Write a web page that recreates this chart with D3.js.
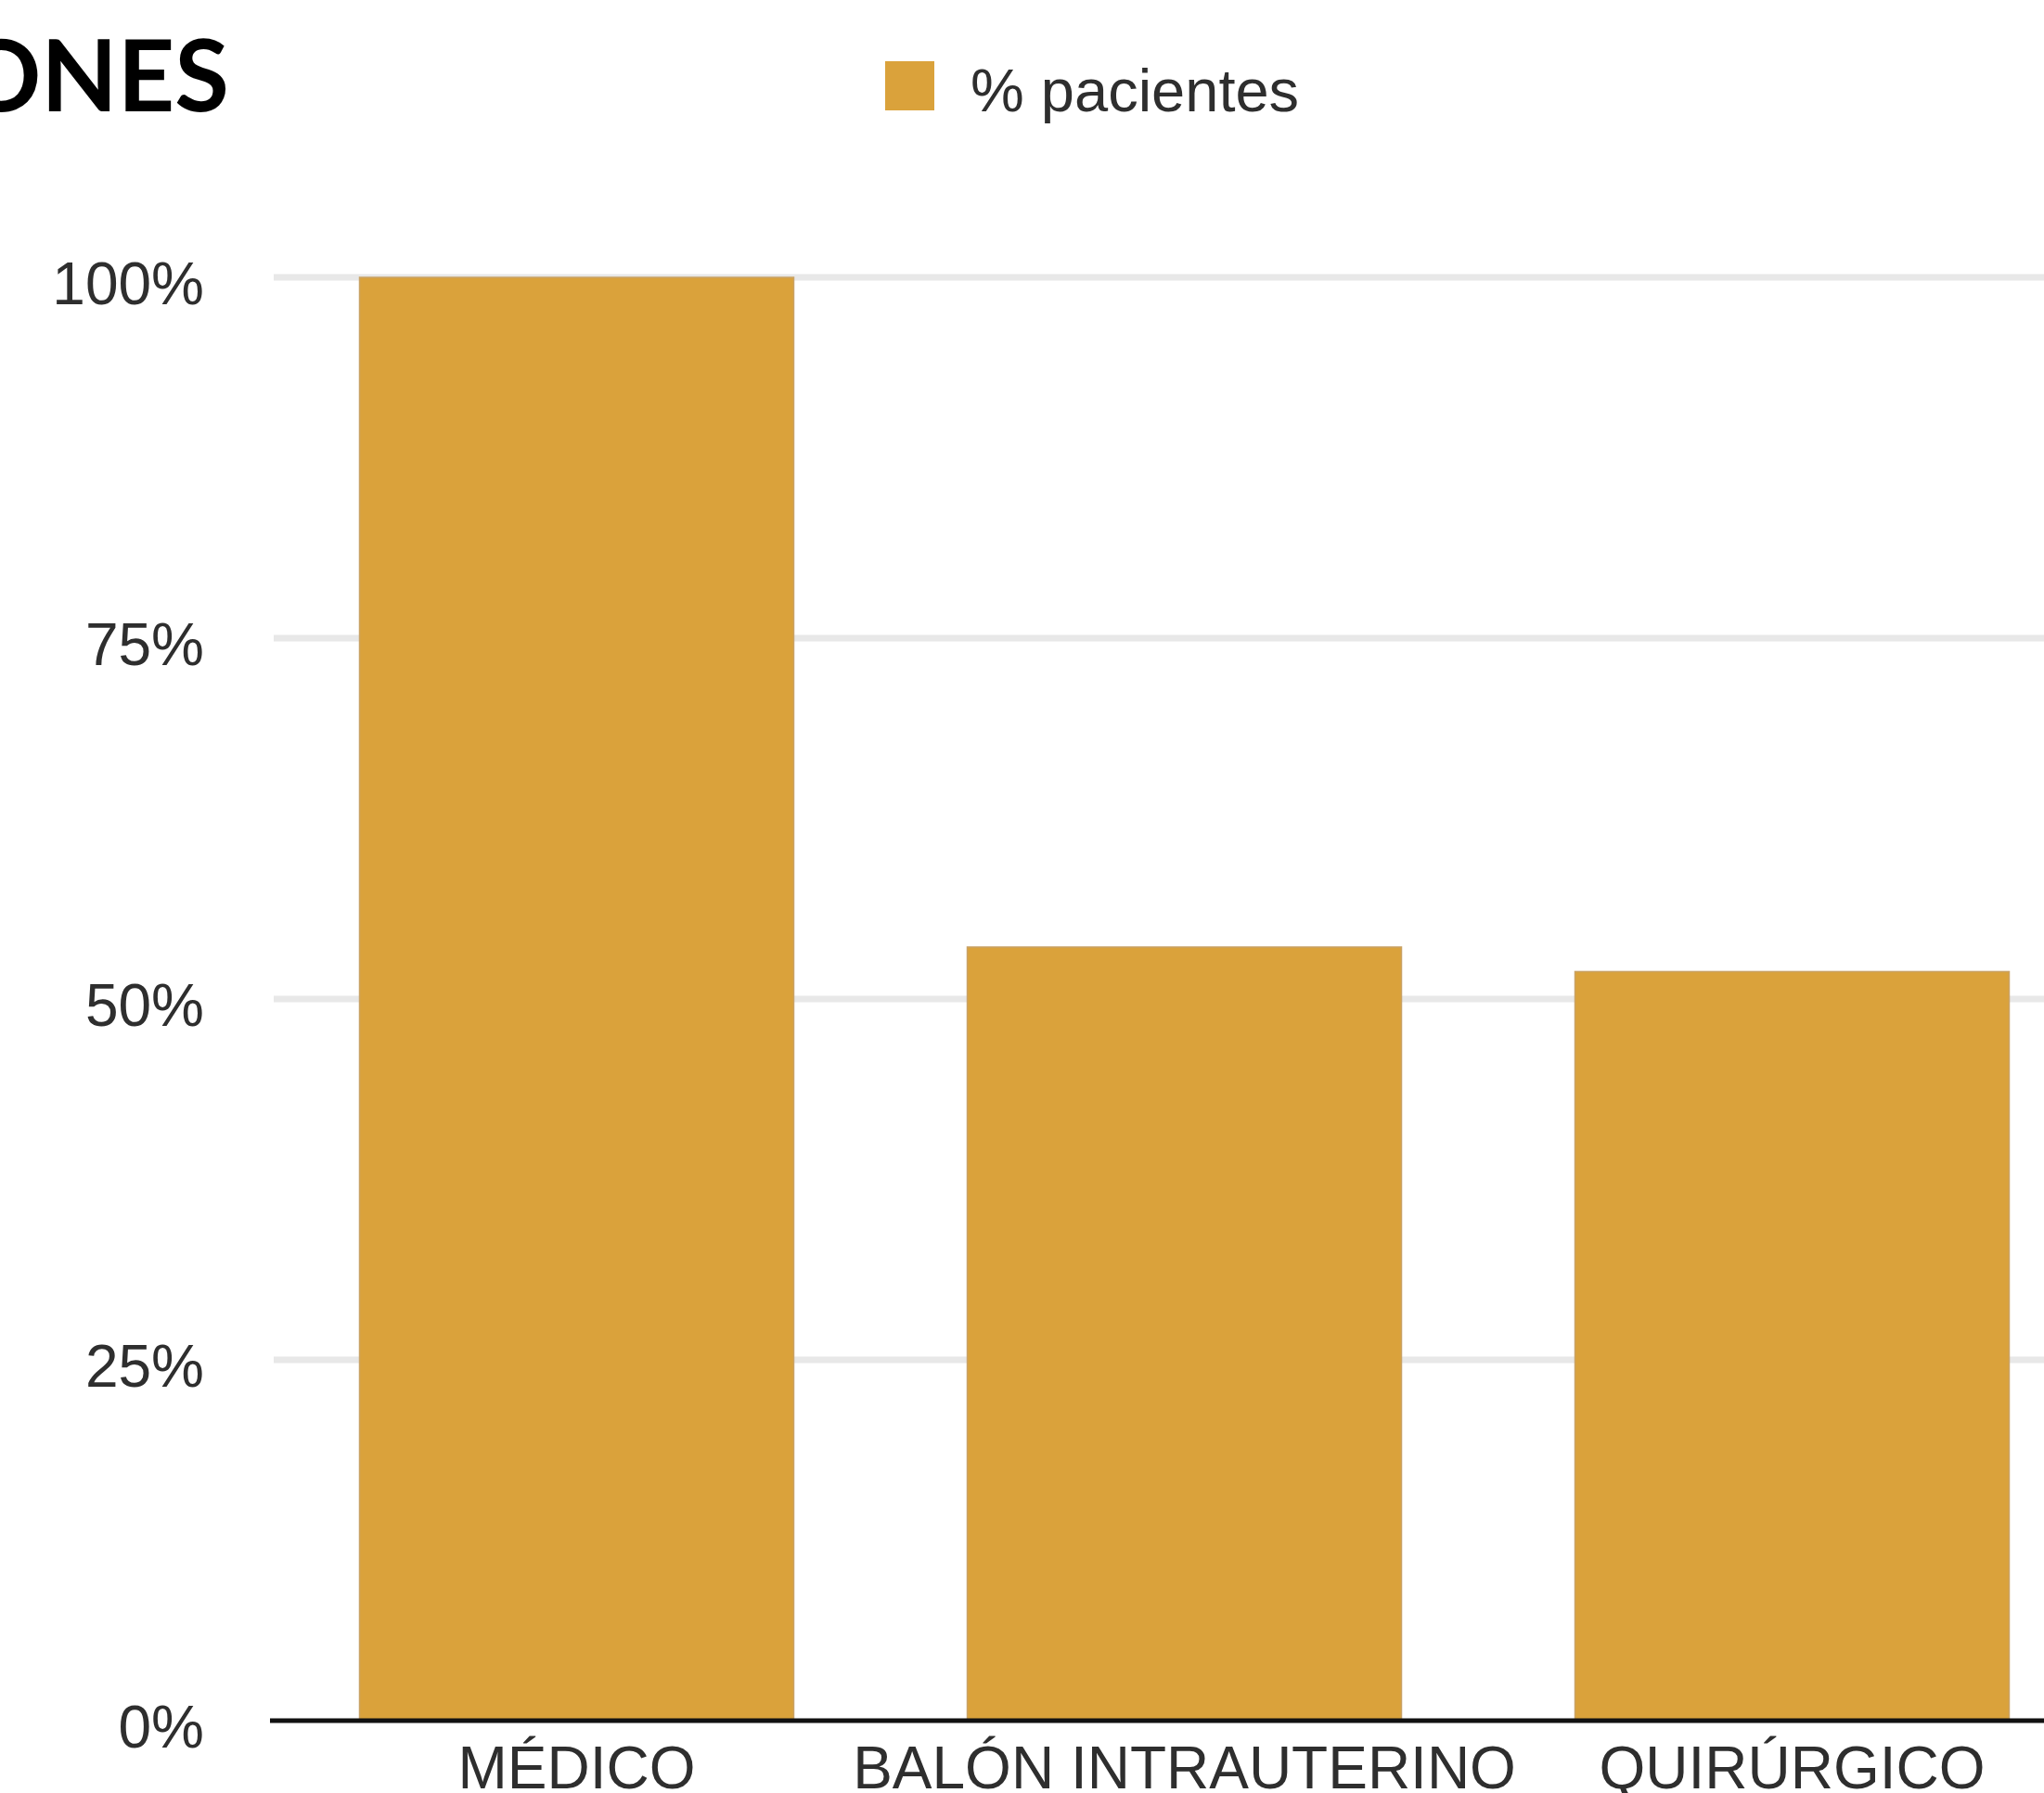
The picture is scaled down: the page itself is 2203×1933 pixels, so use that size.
<!DOCTYPE html>
<html>
<head>
<meta charset="utf-8">
<script src="https://cdn.jsdelivr.net/npm/d3@7"></script>
<style>
  html, body { margin: 0; padding: 0; background: #fff; overflow: hidden; }
  svg { display: block; }
</style>
</head>
<body>
<script>
// Chart data
const categories = ["MÉDICO", "BALÓN INTRAUTERINO", "QUIRÚRGICO"];
const values = [100, 53.6, 51.9];
const tickValues = [0, 25, 50, 75, 100];
const tickLabels = ["0%", "25%", "50%", "75%", "100%"];
const seriesName = "% pacientes";
const titleText = "ONES";

const W = 2203, H = 1933;
const barColor = "#DAA23B";
const textColor = "#2e2e2e";
const font = "'Liberation Sans', Arial, Helvetica, sans-serif";

const svg = d3.select("body").append("svg")
  .attr("width", W).attr("height", H);

// Scales
const x = d3.scaleBand()
  .domain(categories)
  .range([294, 2259])
  .paddingInner(0.2855)
  .paddingOuter(0.14275);

const y = d3.scaleLinear()
  .domain([0, 100])
  .range([1855, 299]);

// Gridlines
svg.append("g")
  .selectAll("line")
  .data(tickValues.filter(d => d > 0))
  .join("line")
  .attr("x1", 295).attr("x2", W)
  .attr("y1", d => y(d)).attr("y2", d => y(d))
  .attr("stroke", "#e8e8e8")
  .attr("stroke-width", 7);

// Y axis labels
svg.append("g")
  .selectAll("text")
  .data(tickValues)
  .join("text")
  .attr("x", 220)
  .attr("y", d => y(d) + 29)
  .attr("text-anchor", "end")
  .attr("font-family", font)
  .attr("font-size", 64)
  .attr("fill", textColor)
  .text((d, i) => tickLabels[i]);

// Bars
svg.append("g")
  .selectAll("rect")
  .data(values)
  .join("rect")
  .attr("x", (d, i) => x(categories[i]))
  .attr("width", x.bandwidth())
  .attr("y", d => y(d))
  .attr("height", d => y(0) - y(d))
  .attr("fill", barColor)
  .attr("stroke", "#c9a266")
  .attr("stroke-width", 1.5);

// Baseline
svg.append("line")
  .attr("x1", 291).attr("x2", W)
  .attr("y1", y(0)).attr("y2", y(0))
  .attr("stroke", "#111")
  .attr("stroke-width", 5);

// X axis labels
svg.append("g")
  .selectAll("text")
  .data(categories)
  .join("text")
  .attr("x", d => x(d) + x.bandwidth() / 2)
  .attr("y", 1928)
  .attr("text-anchor", "middle")
  .attr("font-family", font)
  .attr("font-size", 64)
  .attr("fill", textColor)
  .text(d => d);

// Legend
const legend = svg.append("g");
legend.append("rect")
  .attr("x", 954).attr("y", 66)
  .attr("width", 53).attr("height", 53)
  .attr("fill", barColor);
legend.append("text")
  .attr("x", 1046).attr("y", 120)
  .attr("font-family", font)
  .attr("font-size", 65)
  .attr("fill", textColor)
  .text(seriesName);

// Title fragment at top-left
svg.append("text")
  .attr("x", 247).attr("y", 120)
  .attr("text-anchor", "end")
  .attr("font-family", "Lato, 'Open Sans', sans-serif")
  .attr("font-weight", 700)
  .attr("font-size", 107)
  .attr("fill", "#000")
  .text(titleText);
</script>
</body>
</html>
